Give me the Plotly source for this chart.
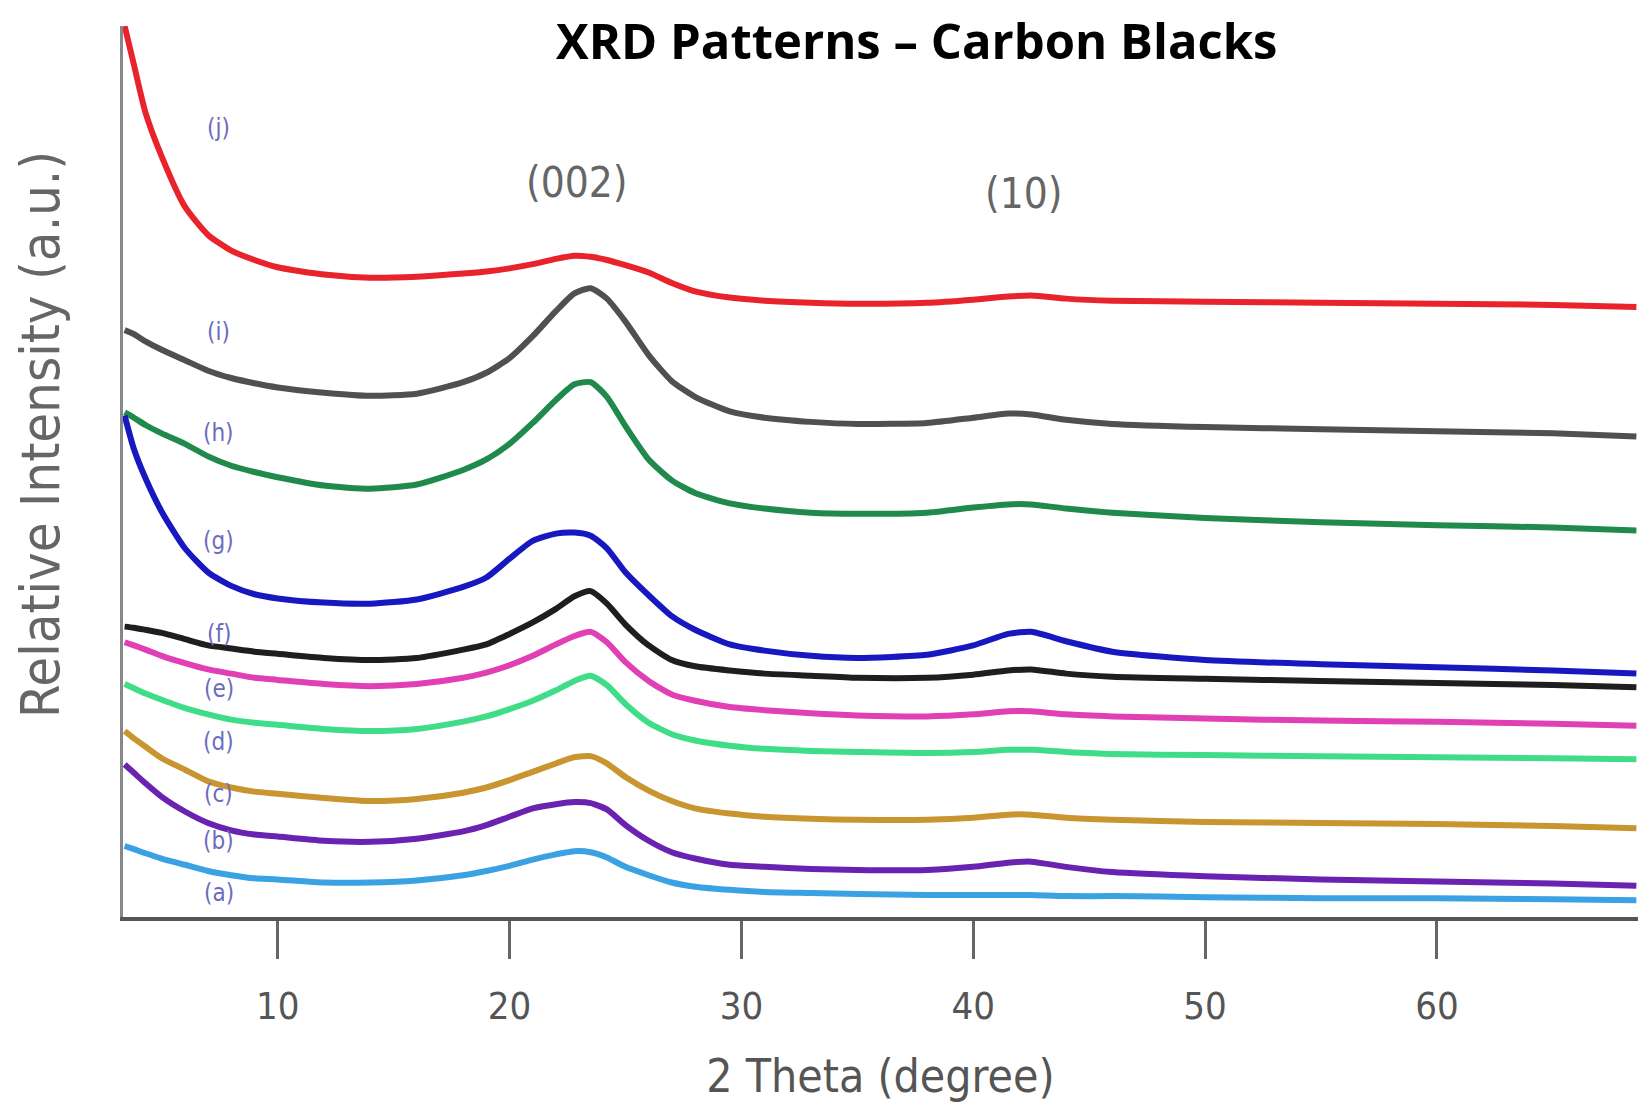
import plotly.graph_objects as go

two_theta = [3.4, 3.8, 4.3, 5, 6, 7, 8, 9, 10, 12, 14, 16, 18, 19, 20, 21, 22, 22.8, 23.5, 24.2,
             25, 26, 27, 28, 29.5, 31, 33, 35, 38, 40, 41.5, 42.5, 44, 46, 50, 55, 60, 65, 68.6]

int_j = [85.3, 81.6, 77.0, 72.8, 68.0, 65.3, 63.8, 62.9, 62.2, 61.5, 61.2, 61.3, 61.6, 61.8, 62.1, 62.5, 63.0, 63.3, 63.2, 62.9,
         62.4, 61.7, 60.7, 59.9, 59.3, 59.0, 58.8, 58.7, 58.8, 59.1, 59.4, 59.5, 59.2, 59.0, 58.9, 58.8, 58.7, 58.6, 58.4]
int_i = [56.2, 55.8, 55.1, 54.3, 53.3, 52.3, 51.6, 51.1, 50.7, 50.2, 49.9, 50.1, 51.2, 52.1, 53.5, 55.6, 58.0, 59.7, 60.2, 59.2,
         57.0, 53.8, 51.3, 49.8, 48.4, 47.8, 47.4, 47.2, 47.3, 47.8, 48.2, 48.1, 47.6, 47.2, 46.9, 46.7, 46.5, 46.3, 46.0]
int_h = [48.3, 47.8, 47.1, 46.3, 45.3, 44.1, 43.2, 42.6, 42.1, 41.3, 41.0, 41.4, 42.8, 43.8, 45.3, 47.3, 49.5, 51.0, 51.2, 49.8,
         47.0, 43.8, 41.8, 40.6, 39.6, 39.1, 38.7, 38.6, 38.7, 39.2, 39.5, 39.5, 39.1, 38.7, 38.2, 37.8, 37.5, 37.3, 37.0]
int_g = [48.0, 44.8, 42.0, 38.8, 35.3, 33.0, 31.7, 30.9, 30.5, 30.1, 30.0, 30.4, 31.6, 32.5, 34.3, 36.0, 36.7, 36.8, 36.5, 35.3,
         33.0, 30.8, 28.8, 27.5, 26.1, 25.5, 25.0, 24.8, 25.1, 26.0, 27.1, 27.3, 26.4, 25.4, 24.6, 24.2, 23.9, 23.6, 23.3]
int_f = [27.8, 27.7, 27.5, 27.2, 26.6, 26.0, 25.7, 25.4, 25.2, 24.8, 24.6, 24.8, 25.6, 26.1, 27.1, 28.2, 29.5, 30.7, 31.2, 30.0,
         28.0, 26.0, 24.6, 24.0, 23.6, 23.3, 23.1, 22.9, 22.9, 23.2, 23.6, 23.7, 23.3, 23.0, 22.8, 22.6, 22.4, 22.2, 22.0]
int_e = [26.3, 26.0, 25.6, 25.0, 24.3, 23.7, 23.3, 22.9, 22.7, 22.3, 22.1, 22.3, 22.9, 23.4, 24.1, 25.0, 26.1, 26.9, 27.3, 26.3,
         24.4, 22.6, 21.3, 20.7, 20.1, 19.8, 19.5, 19.3, 19.2, 19.4, 19.7, 19.7, 19.4, 19.2, 19.0, 18.8, 18.7, 18.5, 18.3]
int_d = [22.3, 21.9, 21.4, 20.8, 20.0, 19.4, 18.9, 18.6, 18.4, 18.0, 17.8, 18.0, 18.7, 19.2, 19.9, 20.7, 21.7, 22.6, 23.1, 22.2,
         20.4, 18.6, 17.5, 16.9, 16.4, 16.1, 15.9, 15.8, 15.7, 15.8, 16.0, 16.0, 15.8, 15.6, 15.5, 15.4, 15.3, 15.2, 15.1]
int_c = [17.8, 17.1, 16.3, 15.2, 14.1, 13.0, 12.4, 12.0, 11.8, 11.4, 11.1, 11.3, 11.9, 12.4, 13.1, 13.9, 14.7, 15.3, 15.4, 14.7,
         13.4, 12.1, 11.1, 10.4, 9.9, 9.6, 9.4, 9.3, 9.3, 9.5, 9.8, 9.8, 9.5, 9.3, 9.1, 9.0, 8.9, 8.7, 8.5]
int_b = [14.6, 13.8, 12.8, 11.5, 10.1, 9.0, 8.3, 7.9, 7.7, 7.3, 7.2, 7.5, 8.2, 8.8, 9.6, 10.4, 10.8, 11.0, 10.9, 10.3,
         8.8, 7.3, 6.2, 5.6, 5.0, 4.8, 4.6, 4.5, 4.5, 4.8, 5.2, 5.3, 4.8, 4.3, 3.9, 3.6, 3.4, 3.2, 3.0]
int_a = [6.8, 6.5, 6.1, 5.6, 5.0, 4.4, 4.0, 3.7, 3.6, 3.3, 3.3, 3.5, 4.0, 4.4, 4.9, 5.5, 6.0, 6.3, 6.2, 5.7,
         4.8, 4.0, 3.3, 2.9, 2.6, 2.4, 2.3, 2.2, 2.1, 2.1, 2.1, 2.1, 2.0, 2.0, 1.9, 1.8, 1.8, 1.7, 1.6]

sample_labels = ["(j)", "(i)", "(h)", "(g)", "(f)", "(e)", "(d)", "(c)", "(b)", "(a)"]
label_y = [75.5, 56.0, 46.3, 36.0, 27.1, 21.8, 16.8, 11.8, 7.3, 2.3]
label_x = 7.45

series = [int_j, int_i, int_h, int_g, int_f, int_e, int_d, int_c, int_b, int_a]
colors = ["#e8232c", "#505050", "#1f8a4c", "#1818c0", "#1e1e1e", "#e040b4", "#40dd88",
          "#c89530", "#6a22b0", "#3aa2e2"]

peak_labels = ["(002)", "(10)"]
peak_x = [22.9, 42.2]
peak_y = [70.3, 69.3]

AXFONT = "DejaVu Sans Condensed, DejaVu Sans"

fig = go.Figure()
for lab, ys, c in zip(sample_labels, series, colors):
    fig.add_trace(go.Scatter(x=two_theta, y=ys, mode="lines", name=lab,
                             line=dict(color=c, width=6, shape="spline", smoothing=0.6)))

for lab, y in zip(sample_labels, label_y):
    fig.add_annotation(x=label_x, y=y, text=lab, showarrow=False,
                       font=dict(family=AXFONT, size=24, color="#6b6bc0"))

for lab, x, y in zip(peak_labels, peak_x, peak_y):
    fig.add_annotation(x=x, y=y, text=lab, showarrow=False,
                       font=dict(family=AXFONT, size=42, color="#666666"))

fig.add_annotation(xref="paper", yref="paper", x=-0.0548, y=0.542, text="Relative Intensity (a.u.)",
                   textangle=-90, showarrow=False, xanchor="center", yanchor="middle",
                   font=dict(family=AXFONT, size=54, color="#666666"))

fig.add_annotation(xref="paper", yref="paper", x=0.524, y=0.984, text="<b>XRD Patterns – Carbon Blacks</b>",
                   showarrow=False, xanchor="center", yanchor="middle",
                   font=dict(family="Open Sans", size=49, color="black"))

fig.update_layout(
    width=1638, height=1108,
    margin=dict(l=123, r=0, t=26, b=191),
    paper_bgcolor="white", plot_bgcolor="white",
    showlegend=False,
    xaxis=dict(range=[3.33, 68.67], tickvals=[10, 20, 30, 40, 50, 60], ticks="outside", ticklen=38,
               tickwidth=3, tickcolor="#666666", showline=True, linecolor="#555555", linewidth=4,
               showgrid=False, zeroline=False, ticklabelstandoff=14,
               tickfont=dict(family=AXFONT, size=38, color="#555555"),
               title=dict(text="2 Theta (degree)", standoff=34,
                          font=dict(family=AXFONT, size=46, color="#555555"))),
    yaxis=dict(range=[0, 85.3], showticklabels=False, ticks="", showline=True, linecolor="#888888",
               linewidth=3, showgrid=False, zeroline=False),
)

fig.write_html("out.html")
